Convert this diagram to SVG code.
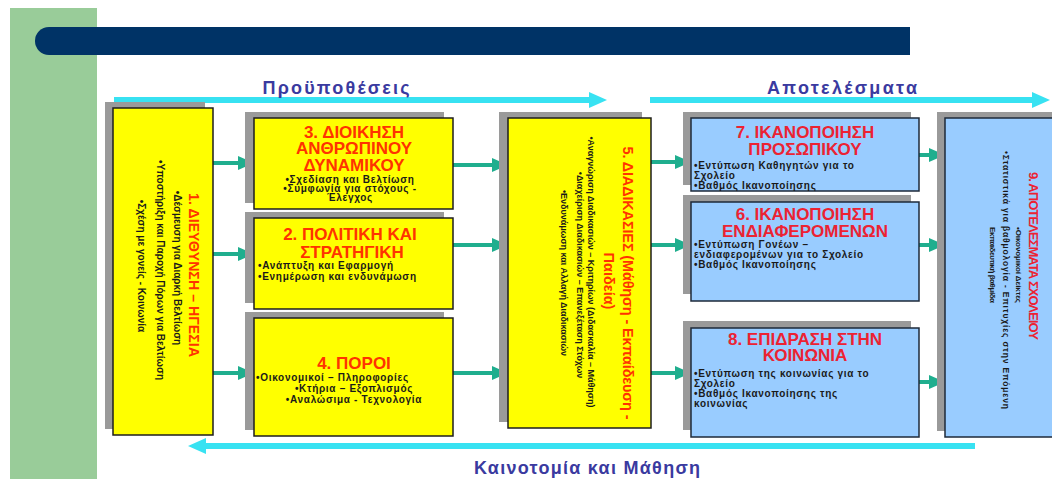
<svg xmlns="http://www.w3.org/2000/svg" width="1052" height="479" viewBox="0 0 1052 479">
<defs>
<style>
text{font-family:"Liberation Sans",Arial,sans-serif}
.sh{fill:#9a9a9a}
.by{fill:#ffff00;stroke:#1e1e1e;stroke-width:1.5}
.bb{fill:#99ccff;stroke:#1e2a3a;stroke-width:1.5}
.ty{font-size:17px;font-weight:bold;fill:#ff3300;text-anchor:middle}
.tb{font-size:17px;font-weight:bold;fill:#ec2232;text-anchor:middle}
.bu{font-size:10px;font-weight:bold;fill:#1a1a1a;letter-spacing:0.7px}
.bc{text-anchor:middle}
.rt{font-weight:bold;text-anchor:middle}
.lab{font-size:18px;font-weight:bold;fill:#3a3aa0;text-anchor:middle}
.con{stroke:#1fae8e;stroke-width:4;fill:none}
.cy{stroke:#38e2f2;stroke-width:6;fill:none}
</style>
<marker id="ah" markerUnits="userSpaceOnUse" markerWidth="16" markerHeight="14" refX="4" refY="7" orient="auto">
<path d="M0,0 L16,7 L0,14 z" fill="#1fae8e"/>
</marker>
<marker id="ca" markerUnits="userSpaceOnUse" markerWidth="18" markerHeight="16" refX="4" refY="8" orient="auto">
<path d="M0,0 L18,8 L0,16 z" fill="#38e2f2"/>
</marker>
</defs>
<rect width="1052" height="479" fill="#ffffff"/>
<rect x="10" y="8" width="87" height="471" fill="#99cc99"/>
<path d="M49,27 H910 V55 H49 A14,14 0 0 1 49,27 z" fill="#003366"/>

<g id="flows">
<line class="cy" x1="114" y1="100" x2="593" y2="100" marker-end="url(#ca)"/>
<line class="cy" x1="650" y1="100" x2="1036" y2="100" marker-end="url(#ca)"/>
<line class="cy" x1="975" y1="446" x2="202" y2="446" marker-end="url(#ca)"/>
<text class="lab" x="336" y="94" textLength="147">Προϋποθέσεις</text>
<text class="lab" x="842" y="94" textLength="150">Αποτελέσματα</text>
<text class="lab" x="587" y="474" textLength="226">Καινοτομία και Μάθηση</text>
</g>

<g id="connectors">
<line class="con" x1="213" y1="163" x2="242" y2="163" marker-end="url(#ah)"/>
<line class="con" x1="213" y1="254" x2="242" y2="254" marker-end="url(#ah)"/>
<line class="con" x1="213" y1="373" x2="242" y2="373" marker-end="url(#ah)"/>
<line class="con" x1="453" y1="165" x2="496" y2="165" marker-end="url(#ah)"/>
<line class="con" x1="453" y1="245" x2="496" y2="245" marker-end="url(#ah)"/>
<line class="con" x1="453" y1="373" x2="496" y2="373" marker-end="url(#ah)"/>
<line class="con" x1="651" y1="162" x2="679" y2="162" marker-end="url(#ah)"/>
<line class="con" x1="651" y1="245" x2="679" y2="245" marker-end="url(#ah)"/>
<line class="con" x1="651" y1="373" x2="679" y2="373" marker-end="url(#ah)"/>
<line class="con" x1="919" y1="155" x2="933" y2="155" marker-end="url(#ah)"/>
<line class="con" x1="919" y1="245" x2="933" y2="245" marker-end="url(#ah)"/>
<line class="con" x1="919" y1="382" x2="933" y2="382" marker-end="url(#ah)"/>
</g>

<g id="n1">
<rect class="sh" x="105" y="102" width="100" height="327"/>
<rect class="by" x="113" y="108" width="100" height="327"/>
<text class="rt" font-size="14" fill="#ff3300" transform="translate(189,275) rotate(90)" textLength="164">1. ΔΙΕΥΘΥΝΣΗ – ΗΓΕΣΙΑ</text>
<text class="rt" font-size="10" fill="#1a1a1a" transform="translate(174,268) rotate(90)">•Δέσμευση για Διαρκή Βελτίωση</text>
<text class="rt" font-size="10" fill="#1a1a1a" transform="translate(157,270) rotate(90)">•Υποστήριξη και Παροχή Πόρων για Βελτίωση</text>
<text class="rt" font-size="10" fill="#1a1a1a" transform="translate(138,266) rotate(90)">•Σχέση με γονείς - Κοινωνία</text>
</g>

<g id="n3">
<rect class="sh" x="245" y="112" width="199" height="91"/>
<rect class="by" x="254" y="118" width="199" height="91"/>
<text class="ty" x="354" y="138">3. ΔΙΟΙΚΗΣΗ</text>
<text class="ty" x="354" y="154">ΑΝΘΡΩΠΙΝΟΥ</text>
<text class="ty" x="354" y="171">ΔΥΝΑΜΙΚΟΥ</text>
<text class="bu bc" x="350" y="183">•Σχεδίαση και Βελτίωση</text>
<text class="bu bc" x="350" y="192">•Συμφωνία για στόχους -</text>
<text class="bu bc" x="350" y="201">Έλεγχος</text>
</g>

<g id="n2">
<rect class="sh" x="245" y="212" width="199" height="91"/>
<rect class="by" x="254" y="218" width="199" height="91"/>
<text class="ty" x="350" y="240">2. ΠΟΛΙΤΙΚΗ ΚΑΙ</text>
<text class="ty" x="352" y="258">ΣΤΡΑΤΗΓΙΚΗ</text>
<text class="bu" x="258" y="269">•Ανάπτυξη και Εφαρμογή</text>
<text class="bu" x="258" y="280">•Ενημέρωση και ενδυνάμωση</text>
</g>

<g id="n4">
<rect class="sh" x="245" y="312" width="199" height="118"/>
<rect class="by" x="254" y="318" width="199" height="118"/>
<text class="ty" x="354" y="369">4. ΠΟΡΟΙ</text>
<text class="bu" x="256" y="381">•Οικονομικοί – Πληροφορίες</text>
<text class="bu bc" x="354" y="392">•Κτήρια – Εξοπλισμός</text>
<text class="bu bc" x="354" y="403">•Αναλώσιμα - Τεχνολογία</text>
</g>

<g id="n5">
<rect class="sh" x="499" y="112" width="143" height="310"/>
<rect class="by" x="508" y="118" width="143" height="310"/>
<text class="rt" font-size="14.5" fill="#ff3300" transform="translate(623,283) rotate(90)" textLength="273">5. ΔΙΑΔΙΚΑΣΙΕΣ (Μάθηση - Εκπαίδευση -</text>
<text class="rt" font-size="14.5" fill="#ff3300" transform="translate(604,281) rotate(90)">Παιδεία)</text>
<text class="rt" font-size="9" fill="#1a1a1a" transform="translate(588,272) rotate(90)">•Αναγνώριση Διαδικασιών – Κριτηρίων (Διδασκαλία – Μάθηση)</text>
<text class="rt" font-size="9" fill="#1a1a1a" transform="translate(577,275) rotate(90)">•Διαχείριση Διαδικασιών – Επανεξέταση Στόχων</text>
<text class="rt" font-size="9" fill="#1a1a1a" transform="translate(561,273) rotate(90)">•Ενδυνάμωση και Αλλαγή Διαδικασιών</text>
</g>

<g id="n7">
<rect class="sh" x="683" y="112" width="228" height="73"/>
<rect class="bb" x="691" y="118" width="228" height="73"/>
<text class="tb" x="805" y="138">7. ΙΚΑΝΟΠΟΙΗΣΗ</text>
<text class="tb" x="805" y="155">ΠΡΟΣΩΠΙΚΟΥ</text>
<text class="bu" x="694" y="169">•Εντύπωση Καθηγητών για το</text>
<text class="bu" x="694" y="179">Σχολείο</text>
<text class="bu" x="694" y="189">•Βαθμός Ικανοποίησης</text>
</g>

<g id="n6">
<rect class="sh" x="683" y="195" width="228" height="99"/>
<rect class="bb" x="691" y="202" width="228" height="99"/>
<text class="tb" x="805" y="220">6. ΙΚΑΝΟΠΟΙΗΣΗ</text>
<text class="tb" x="805" y="237">ΕΝΔΙΑΦΕΡΟΜΕΝΩΝ</text>
<text class="bu" x="694" y="248">•Εντύπωση Γονέων –</text>
<text class="bu" x="694" y="258">ενδιαφερομένων για το Σχολείο</text>
<text class="bu" x="694" y="268">•Βαθμός Ικανοποίησης</text>
</g>

<g id="n8">
<rect class="sh" x="683" y="321" width="228" height="109"/>
<rect class="bb" x="691" y="328" width="228" height="109"/>
<text class="tb" x="805" y="345">8. ΕΠΙΔΡΑΣΗ ΣΤΗΝ</text>
<text class="tb" x="805" y="361">ΚΟΙΝΩΝΙΑ</text>
<text class="bu" x="694" y="377">•Εντύπωση της κοινωνίας για το</text>
<text class="bu" x="694" y="387">Σχολείο</text>
<text class="bu" x="694" y="397">•Βαθμός Ικανοποίησης της</text>
<text class="bu" x="694" y="407">κοινωνίας</text>
</g>

<g id="n9">
<rect class="sh" x="937" y="112" width="120" height="319"/>
<rect class="bb" x="945" y="118" width="120" height="319"/>
<text class="rt" font-size="13" fill="#ec2232" transform="translate(1029,256) rotate(90)" textLength="168">9. ΑΠΟΤΕΛΕΣΜΑΤΑ ΣΧΟΛΕΙΟΥ</text>
<text class="rt" font-size="8" fill="#1a1a1a" transform="translate(1016,265) rotate(90)" textLength="76">•Οικονομικοί Δείκτες</text>
<text class="rt" font-size="8.5" fill="#1a1a1a" transform="translate(1003,280) rotate(90)" textLength="258">•Στατιστικά για βαθμολογία - Επιτυχίες στην Επόμενη</text>
<text class="rt" font-size="8" fill="#1a1a1a" transform="translate(990,265) rotate(90)" textLength="76">Εκπαιδευτική βαθμίδα</text>
</g>
</svg>
